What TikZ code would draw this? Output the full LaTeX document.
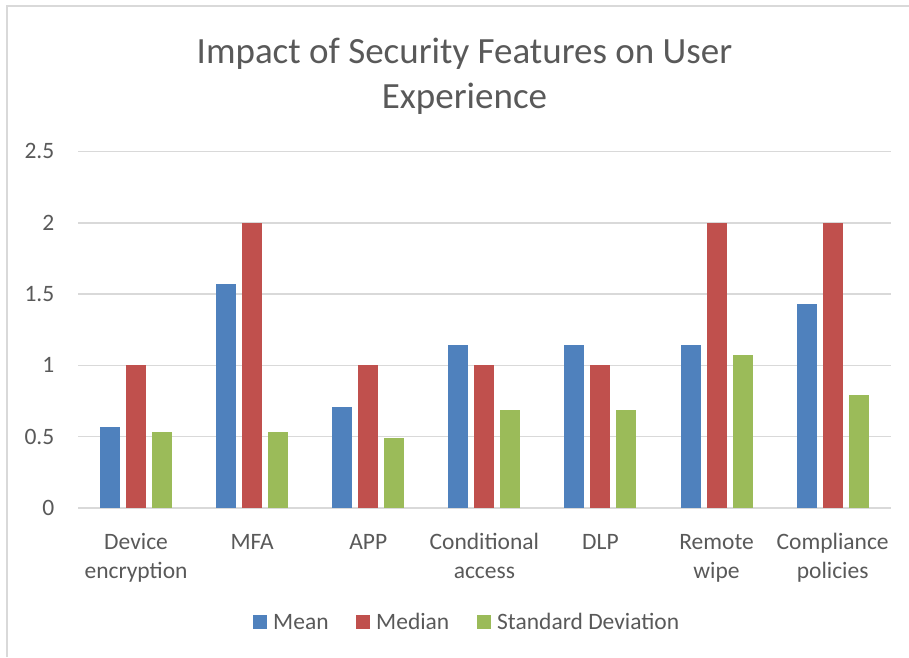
\documentclass[tikz,border=0pt]{standalone}
\usepackage{fontspec}
\setmainfont{Carlito}
\definecolor{meanblue}{HTML}{4F81BD}
\definecolor{medianred}{HTML}{C0504D}
\definecolor{sdgreen}{HTML}{9BBB59}
\definecolor{gridgray}{HTML}{D9D9D9}
\definecolor{labelgray}{HTML}{595959}
\begin{document}
\begin{tikzpicture}[x=1pt,y=-1pt,
  titletext/.style={text=labelgray,font=\fontsize{37}{45}\selectfont,inner sep=0pt,anchor=base},
  ticklabel/.style={text=labelgray,font=\fontsize{23.5}{28.5}\selectfont,inner sep=0pt},
  gridline/.style={gridgray,line width=1.4pt},
  legendkey/.style={minimum size=14pt,inner sep=0pt,draw=none}]
  \useasboundingbox (0,0) rectangle (909,657);
  % chart frame (only the top and left edges fall inside the picture)
  \draw[gridgray,line width=2pt] (7,657) -- (7,5.5) -- (909,5.5);
  % title
  \node[titletext] (title1) at (464.5,63) {Impact of Security Features on User};
  \node[titletext] (title2) at (464.5,108) {Experience};
  % horizontal gridlines and value labels (0 at y=508, 142.6 per unit)
  \foreach \v in {0,0.5,1,1.5,2,2.5} {
    \draw[gridline] (78,{508-142.6*\v}) -- (891,{508-142.6*\v});
    \node[ticklabel,anchor=base east] (ytick\v) at (54.5,{508-142.6*\v+7.4}) {\v};
  }
  % bars: index / mean / median / standard deviation
  \foreach \i/\m/\d/\s in {0/0.57/1/0.53, 1/1.57/2/0.53, 2/0.71/1/0.49,
                           3/1.14/1/0.69, 4/1.14/1/0.69, 5/1.14/2/1.07,
                           6/1.43/2/0.79} {
    \pgfmathsetmacro\cx{78+116.1*(\i+0.5)}
    \fill[meanblue]  ({\cx-36},508) rectangle ({\cx-16},{508-142.6*\m});
    \fill[medianred] ({\cx-10},508) rectangle ({\cx+10},{508-142.6*\d});
    \fill[sdgreen]   ({\cx+16},508) rectangle ({\cx+36},{508-142.6*\s});
  }
  % category labels
  \foreach \i/\a/\b in {0/Device/encryption, 1/MFA/, 2/APP/,
                        3/Conditional/access, 4/DLP/, 5/Remote/wipe,
                        6/Compliance/policies} {
    \pgfmathsetmacro\cx{78+116.1*(\i+0.5)}
    \node[ticklabel,anchor=base] (cat\i a) at (\cx,549) {\a};
    \node[ticklabel,anchor=base] (cat\i b) at (\cx,578) {\b};
  }
  % legend
  \node[legendkey,fill=meanblue]  (keymean)   at (260,622) {};
  \node[ticklabel,anchor=base west] (txtmean) at (273,629.5) {Mean};
  \node[legendkey,fill=medianred] (keymedian) at (363,622) {};
  \node[ticklabel,anchor=base west] (txtmedian) at (376,629.5) {Median};
  \node[legendkey,fill=sdgreen]   (keysd)     at (484,622) {};
  \node[ticklabel,anchor=base west] (txtsd) at (497,629.5) {Standard Deviation};
\end{tikzpicture}
\end{document}
